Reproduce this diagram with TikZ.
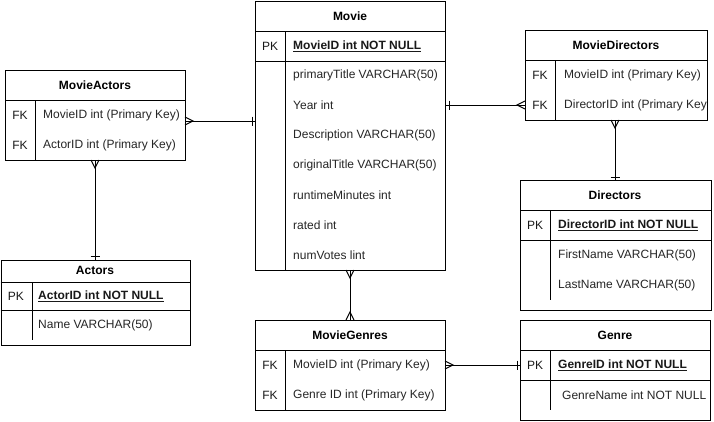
\documentclass[tikz,border=0pt]{standalone}
\usepackage{fontspec}
\setmainfont{Liberation Sans}
\usetikzlibrary{calc}
\tikzset{
  tbl/.style={draw=black, line width=1pt, fill=white, inner sep=0pt, anchor=north west},
  sepline/.style={draw=black, line width=1pt},
  ttl/.style={font=\fontsize{12}{14}\selectfont\bfseries, text=black, inner sep=0pt},
  keylbl/.style={font=\fontsize{12}{14}\selectfont, text=black!90, inner sep=0pt},
  fld/.style={font=\fontsize{12}{14}\selectfont, text=black!85, inner sep=0pt, anchor=west},
  pkfld/.style={font=\fontsize{12}{14}\selectfont\bfseries, text=black!90, inner sep=0pt, anchor=west},
  conn/.style={draw=black, line width=1pt},
  crow/.style={draw=black, line width=1pt, line join=miter}
}
\newcommand{\pkul}[1]{\underline{#1}}
\begin{document}
\begin{tikzpicture}[x=1pt,y=-1pt]
\useasboundingbox (0,0) rectangle (714,421);

% ---------- Movie ----------
\node[tbl, minimum width=190pt, minimum height=269pt] (movie) at (255,1) {};
\draw[sepline] (255,31) -- (445,31);
\draw[sepline] (255,61) -- (445,61);
\draw[sepline] (285,31) -- (285,270);
\node[ttl] (movieT) at (350,16) {Movie};
\node[keylbl] (movieK) at (270,46) {PK};
\node[pkfld] (movieP) at (293,46) {\pkul{MovieID int NOT NULL}};
\node[fld] (movieF1) at (293,75) {primaryTitle VARCHAR(50)};
\node[fld] (movieF2) at (293,105) {Year int};
\node[fld] (movieF3) at (293,135) {Description VARCHAR(50)};
\node[fld] (movieF4) at (293,165) {originalTitle VARCHAR(50)};
\node[fld] (movieF5) at (293,195) {runtimeMinutes int};
\node[fld] (movieF6) at (293,225) {rated int};
\node[fld] (movieF7) at (293,255) {numVotes lint};

% ---------- MovieActors ----------
\node[tbl, minimum width=180pt, minimum height=90pt] (ma) at (5,70) {};
\draw[sepline] (5,100) -- (185,100);
\draw[sepline] (35,100) -- (35,160);
\node[ttl] (maT) at (95,85) {MovieActors};
\node[keylbl] (maK1) at (20,115) {FK};
\node[keylbl] (maK2) at (20,145) {FK};
\node[fld] (maF1) at (43,115) {MovieID int (Primary Key)};
\node[fld] (maF2) at (43,145) {ActorID int (Primary Key)};

% ---------- MovieDirectors ----------
\node[tbl, minimum width=182pt, minimum height=90pt] (md) at (525,30) {};
\draw[sepline] (525,60) -- (707,60);
\draw[sepline] (555,60) -- (555,120);
\node[ttl] (mdT) at (616,45) {MovieDirectors};
\node[keylbl] (mdK1) at (540,75) {FK};
\node[keylbl] (mdK2) at (540,105) {FK};
\begin{scope}
\clip (556,61) rectangle (706,119);
\node[fld] (mdF1) at (564,75) {MovieID int (Primary Key)};
\node[fld] (mdF2) at (564,105) {DirectorID int (Primary Key)};
\end{scope}

% ---------- Directors ----------
\node[tbl, minimum width=191pt, minimum height=130pt] (dir) at (520,180) {};
\draw[sepline] (520,210) -- (711,210);
\draw[sepline] (520,240) -- (711,240);
\draw[sepline] (550,210) -- (550,300);
\node[ttl] (dirT) at (615,195) {Directors};
\node[keylbl] (dirK) at (535,225) {PK};
\node[pkfld] (dirP) at (558,225) {\pkul{DirectorID int NOT NULL}};
\node[fld] (dirF1) at (558,255) {FirstName VARCHAR(50)};
\node[fld] (dirF2) at (558,285) {LastName VARCHAR(50)};

% ---------- Actors ----------
\node[tbl, minimum width=189.5pt, minimum height=85pt] (act) at (0.5,260) {};
\draw[sepline] (0.5,282) -- (190,282);
\draw[sepline] (0.5,310) -- (190,310);
\draw[sepline] (32,282) -- (32,340);
\node[ttl] (actT) at (95,270.5) {Actors};
\node[keylbl] (actK) at (16,296) {PK};
\node[pkfld] (actP) at (38,296) {\pkul{ActorID int NOT NULL}};
\node[fld] (actF1) at (38,325) {Name VARCHAR(50)};

% ---------- MovieGenres ----------
\node[tbl, minimum width=190pt, minimum height=90pt] (mg) at (255,320) {};
\draw[sepline] (255,350) -- (445,350);
\draw[sepline] (285,350) -- (285,410);
\node[ttl] (mgT) at (350,335) {MovieGenres};
\node[keylbl] (mgK1) at (270,365) {FK};
\node[keylbl] (mgK2) at (270,395) {FK};
\node[fld] (mgF1) at (293,365) {MovieID int (Primary Key)};
\node[fld] (mgF2) at (293,395) {Genre ID int (Primary Key)};

% ---------- Genre ----------
\node[tbl, minimum width=190pt, minimum height=100pt] (gen) at (520,320) {};
\draw[sepline] (520,350) -- (710,350);
\draw[sepline] (520,380) -- (710,380);
\draw[sepline] (550,350) -- (550,410);
\node[ttl] (genT) at (615,335) {Genre};
\node[keylbl] (genK) at (535,365) {PK};
\node[pkfld] (genP) at (558,365) {\pkul{GenreID int NOT NULL}};
\node[fld] (genF1) at (562,395) {GenreName int NOT NULL};

% ---------- connector endpoints ----------
\coordinate (c1a) at (185,121);  \coordinate (c1b) at (255,121);
\coordinate (c2a) at (445,105);  \coordinate (c2b) at (525,105);
\coordinate (c3a) at (615,120);  \coordinate (c3b) at (615,180);
\coordinate (c4a) at (95,160);   \coordinate (c4b) at (95,260);
\coordinate (c5a) at (350,270);  \coordinate (c5b) at (350,320);
\coordinate (c6a) at (445,365);  \coordinate (c6b) at (520,365);

% MovieActors (many) -- Movie (one)
\draw[conn] (c1a) -- (c1b);
\draw[crow] ($(c1a)+(0,-4)$) -- ($(c1a)+(8,0)$) -- ($(c1a)+(0,4)$);
\draw[conn] ($(c1b)+(-3,-4.5)$) -- ($(c1b)+(-3,4.5)$);

% Movie (one) -- MovieDirectors (many)
\draw[conn] (c2a) -- (c2b);
\draw[conn] ($(c2a)+(4,-4.5)$) -- ($(c2a)+(4,4.5)$);
\draw[crow] ($(c2b)+(0,-4)$) -- ($(c2b)+(-8,0)$) -- ($(c2b)+(0,4)$);

% MovieDirectors (many) -- Directors (one)
\draw[conn] (c3a) -- (c3b);
\draw[crow] ($(c3a)+(-4,0)$) -- ($(c3a)+(0,8)$) -- ($(c3a)+(4,0)$);
\draw[conn] ($(c3b)+(-4.5,-3)$) -- ($(c3b)+(4.5,-3)$);

% MovieActors (many) -- Actors (one)
\draw[conn] (c4a) -- (c4b);
\draw[crow] ($(c4a)+(-4,0)$) -- ($(c4a)+(0,8)$) -- ($(c4a)+(4,0)$);
\draw[conn] ($(c4b)+(-4.5,-4)$) -- ($(c4b)+(4.5,-4)$);

% Movie (many) -- MovieGenres (many)
\draw[conn] (c5a) -- (c5b);
\draw[crow] ($(c5a)+(-4,0)$) -- ($(c5a)+(0,8)$) -- ($(c5a)+(4,0)$);
\draw[crow] ($(c5b)+(-4,0)$) -- ($(c5b)+(0,-8)$) -- ($(c5b)+(4,0)$);

% MovieGenres (many) -- Genre (one)
\draw[conn] (c6a) -- (c6b);
\draw[crow] ($(c6a)+(0,-4)$) -- ($(c6a)+(8,0)$) -- ($(c6a)+(0,4)$);
\draw[conn] ($(c6b)+(-3,-4.5)$) -- ($(c6b)+(-3,4.5)$);
\end{tikzpicture}
\end{document}
